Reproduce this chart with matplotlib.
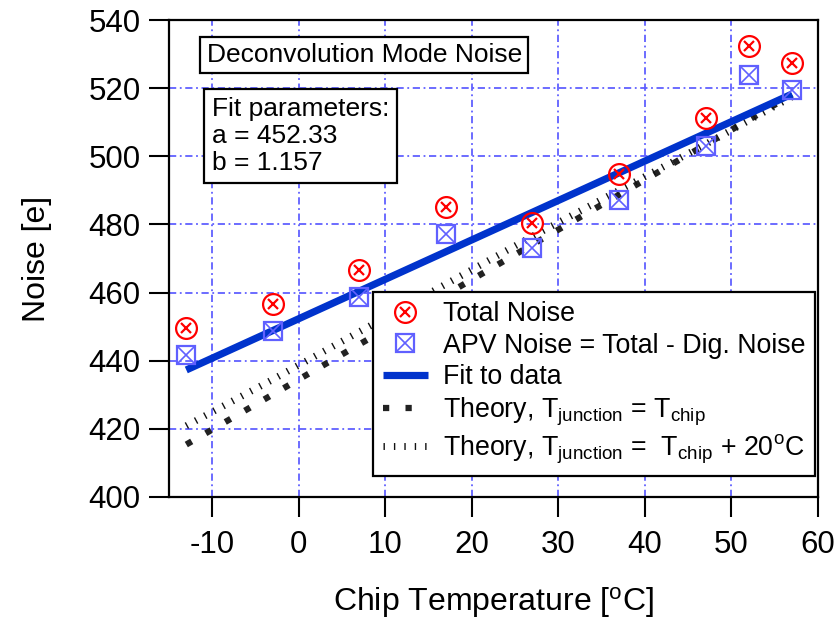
import matplotlib
matplotlib.use("Agg")
import matplotlib.pyplot as plt
from matplotlib.legend_handler import HandlerTuple

plt.rcParams['font.family'] = ['Liberation Sans', 'DejaVu Sans']
plt.rcParams['mathtext.fontset'] = 'custom'
plt.rcParams['mathtext.rm'] = 'Liberation Sans'
plt.rcParams['mathtext.it'] = 'Liberation Sans:italic'
plt.rcParams['axes.unicode_minus'] = False

# measured points
temp = [-13, -3, 7, 17, 27, 37, 47, 52, 57]
total_noise = [449.6, 456.6, 466.6, 485.1, 480.4, 494.8, 511.2, 532.4, 527.4]
apv_noise = [441.7, 448.7, 458.7, 477.2, 473.1, 487.2, 503.0, 523.9, 519.5]

# fit parameters
fit_a = 452.33
fit_b = 1.157
fit_t = [-13, 57]

# theory curves
theory_t = [-13, -3, 7, 17, 27, 37, 47, 52, 57]
theory_same = [415.4, 430.1, 444.8, 459.4, 474.1, 488.7, 503.4, 510.7, 518.1]
theory_plus20 = [420.9, 434.5, 448.5, 462.5, 476.5, 490.0, 503.5, 510.5, 517.5]

red = '#ff0000'
lblue = '#6060ff'
dblue = '#0033cc'

fig = plt.figure(figsize=(8.37, 6.18), dpi=100)
ax = fig.add_axes([0.2019, 0.1958, 0.9773 - 0.2019, 0.9676 - 0.1958])

ax.grid(True, color=lblue, lw=1.3, linestyle=(0, (4, 2, 1, 2)))
ax.set_axisbelow(True)

fit_y = [fit_a + fit_b * t for t in fit_t]
l_fit, = ax.plot(fit_t, fit_y, color=dblue, lw=5.2, solid_capstyle='butt', zorder=3)
l_th1, = ax.plot(theory_t, theory_same, color='#222222', lw=4.5,
                 linestyle=(0, (1.0, 2.6)), dash_capstyle='butt', zorder=2)
l_th2, = ax.plot(theory_t, theory_plus20, color='#111111', lw=5,
                 linestyle=(0, (0.2, 1.3)), dash_capstyle='butt', zorder=2)

c1, = ax.plot(temp, total_noise, 'o', ms=15, mfc='none', mec=red, mew=1.6, zorder=4)
c2, = ax.plot(temp, total_noise, 'x', ms=7.5, color=red, mew=1.6, zorder=4)
s1, = ax.plot(temp, apv_noise, 's', ms=13.5, mfc='none', mec=lblue, mew=1.6, zorder=4)
s2, = ax.plot(temp, apv_noise, 'x', ms=13.5, color=lblue, mew=1.2, zorder=4)

ax.set_xlim(-15, 60)
ax.set_ylim(400, 540)
ax.set_xticks([-10, 0, 10, 20, 30, 40, 50, 60])
ax.set_yticks(range(400, 541, 20))
ax.tick_params(direction='out', length=14.5, width=1.5, labelsize=22.5)
ax.tick_params(axis='x', pad=9)
ax.tick_params(axis='y', pad=6)
for sp in ax.spines.values():
    sp.set_linewidth(1.6)

ax.set_xlabel(r'Chip Temperature [$^{\rm o}$C]', fontsize=23, labelpad=18)
ax.set_ylabel('Noise [e]', fontsize=23, labelpad=26)

ax.text(0.058, 0.927, 'Deconvolution Mode Noise', transform=ax.transAxes,
        fontsize=19, ha='left', va='center',
        bbox=dict(boxstyle='square,pad=0.24', fc='white', ec='black', lw=1.6))
ax.text(0.066, 0.757, 'Fit parameters:\na = 452.33\nb = 1.157', transform=ax.transAxes,
        fontsize=19, ha='left', va='center', linespacing=1.15,
        bbox=dict(boxstyle='square,pad=0.3', fc='white', ec='black', lw=1.6))

leg = ax.legend([(c1, c2), (s1, s2), l_fit, l_th1, l_th2],
                ['Total Noise', 'APV Noise = Total - Dig. Noise', 'Fit to data',
                 r'Theory, T$_{\rm junction}$ = T$_{\rm chip}$',
                 r'Theory, T$_{\rm junction}$ =  T$_{\rm chip}$ + 20$^{\rm o}$C'],
                handler_map={tuple: HandlerTuple(ndivide=1)},
                loc='upper right', bbox_to_anchor=(0.995, 0.43), borderaxespad=0,
                fontsize=19.3, numpoints=1, handlelength=1.7, handletextpad=0.55,
                labelspacing=0.2, borderpad=0.35, fancybox=False, framealpha=1,
                edgecolor='black')
leg.get_frame().set_linewidth(1.6)
leg.set_zorder(5)

fig.savefig('out.png', dpi=100)
